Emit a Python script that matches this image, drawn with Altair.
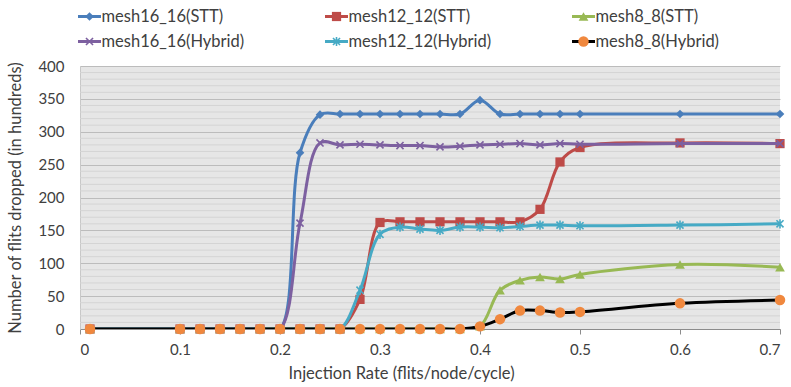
import altair as alt
import pandas as pd

# Injection rates sampled in the simulation
rates = [0.01, 0.1, 0.12, 0.14, 0.16, 0.18, 0.2, 0.22, 0.24, 0.26, 0.28, 0.3,
         0.32, 0.34, 0.36, 0.38, 0.4, 0.42, 0.44, 0.46, 0.48, 0.5, 0.6, 0.7]

# Flits dropped (in hundreds) for each configuration
mesh16_stt = [0, 0, 0, 0, 0, 0, 0, 268, 326, 327, 327, 327,
              327, 327, 327, 327, 348, 327, 327, 327, 327, 327, 327, 327]
mesh12_stt = [0, 0, 0, 0, 0, 0, 0, 0, 0, 0, 45, 162,
              163, 163, 163, 163, 163, 163, 163, 182, 254, 276, 283, 282]
mesh8_stt = [0, 0, 0, 0, 0, 0, 0, 0, 0, 0, 0, 0,
             0, 0, 0, 0, 4, 59, 74, 79, 76, 83, 98, 94]
mesh16_hyb = [0, 0, 0, 0, 0, 0, 0, 161, 283, 280, 281, 280,
              279, 279, 277, 278, 280, 281, 282, 280, 282, 281, 282, 282]
mesh12_hyb = [0, 0, 0, 0, 0, 0, 0, 0, 0, 0, 59, 144,
              155, 152, 150, 155, 155, 154, 156, 158, 158, 157, 158, 160]
mesh8_hyb = [0, 0, 0, 0, 0, 0, 0, 0, 0, 0, 0, 0,
             0, 0, 0, 0, 4, 15, 28, 28, 25, 26, 39, 44]

series_names = ["mesh16_16(STT)", "mesh12_12(STT)", "mesh8_8(STT)",
                "mesh16_16(Hybrid)", "mesh12_12(Hybrid)", "mesh8_8(Hybrid)"]
series_values = [mesh16_stt, mesh12_stt, mesh8_stt, mesh16_hyb, mesh12_hyb, mesh8_hyb]

x_ticks = [0, 0.1, 0.2, 0.3, 0.4, 0.5, 0.6, 0.7]
y_ticks = [0, 50, 100, 150, 200, 250, 300, 350, 400]
minor_grid = [v for v in range(10, 400, 10) if v % 50]

X_SHAPE = "M-1,-1L1,1M-1,1L1,-1"
STAR_SHAPE = "M-1,-1L1,1M-1,1L1,-1M0,-1.3L0,1.3"

# line colour, marker colour, marker shape, filled, marker size
styles = {
    "mesh16_16(STT)": ("#4A7EBB", "#4A7EBB", "diamond", True, 75),
    "mesh12_12(STT)": ("#BE4B48", "#BE4B48", "square", True, 85),
    "mesh8_8(STT)": ("#98B954", "#98B954", "triangle-up", True, 95),
    "mesh16_16(Hybrid)": ("#7D60A0", "#7D60A0", X_SHAPE, False, 50),
    "mesh12_12(Hybrid)": ("#46AAC5", "#46AAC5", STAR_SHAPE, False, 50),
    "mesh8_8(Hybrid)": ("#000000", "#F0883E", "circle", True, 110),
}

FONT = "Lato"
TEXT = "#404040"

df = pd.DataFrame(
    [{"rate": r, "value": v, "series": name}
     for name, vals in zip(series_names, series_values)
     for r, v in zip(rates, vals)]
)

x_enc = alt.X("rate:Q", scale=alt.Scale(domain=[0, 0.7], nice=False, zero=False),
              axis=alt.Axis(values=x_ticks, format="~g", grid=False,
                            title="Injection Rate (flits/node/cycle)",
                            domainColor="#8c8c8c", tickColor="#8c8c8c",
                            tickSize=5, labelPadding=8, titlePadding=8,
                            titleX=321))
y_scale = alt.Scale(domain=[0, 400], nice=False)
y_enc = alt.Y("value:Q", scale=y_scale,
              axis=alt.Axis(values=y_ticks, grid=True, gridColor="#bcbcbc",
                            ticks=False, domainColor="#c8c8c8", labelPadding=16,
                            title="Number of flits dropped (in hundreds)",
                            titlePadding=14))

minor = alt.Chart(pd.DataFrame({"value": minor_grid})).mark_rule(
    color="#d4d4d4", strokeWidth=1
).encode(y=y_enc)

layers = [minor]
for name in series_names:
    line_c, mark_c, shape, filled, size = styles[name]
    base = alt.Chart(df).transform_filter(alt.datum.series == name).encode(x=x_enc, y=y_enc)
    layers.append(base.mark_line(interpolate="catmull-rom", strokeWidth=3,
                                 color=line_c, clip=True))
    if filled:
        layers.append(base.mark_point(shape=shape, filled=True, size=size,
                                      color=mark_c, opacity=1))
    else:
        layers.append(base.mark_point(shape=shape, filled=False, size=size,
                                      color=mark_c, opacity=1, strokeWidth=1.6))

main = alt.layer(*layers).properties(
    width=700, height=263,
    view=alt.ViewBackground(fill="#e6e6e6", stroke=None),
)

# Legend: three columns, two rows, line segment with marker plus label
leg_df = pd.DataFrame({
    "series": series_names,
    "col": [i % 3 for i in range(len(series_names))],
    "row": [i // 3 for i in range(len(series_names))],
})
leg_x = alt.X("col:Q", scale=alt.Scale(domain=[-0.0385, 1.9615], nice=False, zero=False), axis=None)
leg_y = alt.Y("row:Q", scale=alt.Scale(domain=[-0.5, 1.5], nice=False, reverse=True), axis=None)

leg_layers = []
for name in series_names:
    line_c, mark_c, shape, filled, size = styles[name]
    b = alt.Chart(leg_df).transform_filter(alt.datum.series == name).encode(x=leg_x, y=leg_y)
    leg_layers.append(b.mark_tick(orient="horizontal", size=23, thickness=3,
                                  color=line_c, opacity=1))
    if filled:
        leg_layers.append(b.mark_point(shape=shape, filled=True, size=size,
                                       color=mark_c, opacity=1))
    else:
        leg_layers.append(b.mark_point(shape=shape, filled=False, size=size,
                                       color=mark_c, opacity=1, strokeWidth=1.6))
    leg_layers.append(b.mark_text(align="left", baseline="middle", dx=12,
                                  font=FONT, fontSize=16.5, color=TEXT)
                      .encode(text="series:N"))

legend = alt.layer(*leg_layers).properties(width=494, height=50)

chart = alt.vconcat(legend, main, spacing=12, bounds="flush").properties(
    padding={"left": 7, "top": 4, "right": 0, "bottom": 0}
).configure(font=FONT).configure_view(stroke=None).configure_axis(
    labelFont=FONT, titleFont=FONT, labelFontSize=15, titleFontSize=16.5,
    labelColor=TEXT, titleColor=TEXT, titleFontWeight="normal",
)

chart.save("out.html", embed_options={"renderer": "svg", "actions": False})
